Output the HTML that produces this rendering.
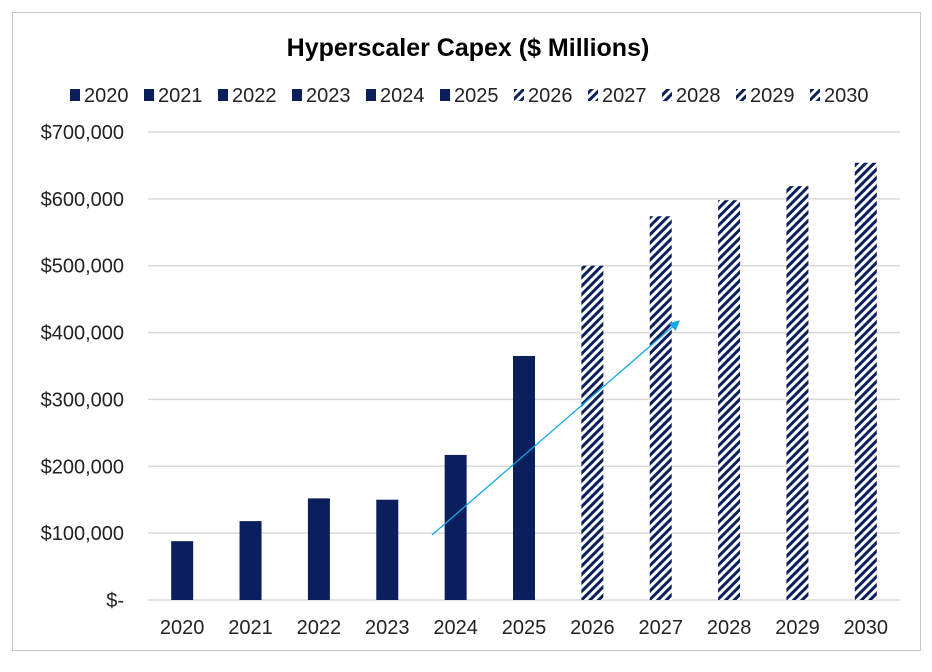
<!DOCTYPE html>
<html><head><meta charset="utf-8"><style>
html,body{margin:0;padding:0;background:#fff;}
svg{display:block;font-family:"Liberation Sans",Arial,sans-serif;}
</style></head><body>
<svg id="chart" width="932" height="672" viewBox="0 0 932 672" xmlns="http://www.w3.org/2000/svg">
<defs>
<pattern id="hatch" patternUnits="userSpaceOnUse" width="6" height="6" patternTransform="rotate(45)">
<rect width="6" height="6" fill="#fff"/>
<rect x="0" y="0" width="3" height="6" fill="#0b1f5c"/>
</pattern>
<marker id="arrowhead" markerWidth="8" markerHeight="8" refX="6" refY="4" orient="auto"><path d="M0,0 L8,4 L0,8 z" fill="#12a8e8"/></marker>
</defs>
<rect x="12.5" y="12.5" width="908" height="638" fill="#fff" stroke="#c8c8c8"/>
<text x="468" y="56" text-anchor="middle" font-size="25" font-weight="bold" fill="#000">Hyperscaler Capex ($ Millions)</text>
<g id="grid"></g><g id="yticks"></g><g id="bars"></g><g id="xticks"></g><g id="legend"></g>
<line x1="432" y1="535" x2="678" y2="322" stroke="#12a8e8" stroke-width="1.3" marker-end="url(#arrowhead)"/>
</svg>
<script>
const categories=["2020","2021","2022","2023","2024","2025","2026","2027","2028","2029","2030"];
const values=[88000,118000,152000,150000,217000,365000,500000,574000,598000,619000,654000];
const forecast=[false,false,false,false,false,false,true,true,true,true,true];
const yTicks=[0,100000,200000,300000,400000,500000,600000,700000];
const yLabels=["$-","$100,000","$200,000","$300,000","$400,000","$500,000","$600,000","$700,000"];
const NS="http://www.w3.org/2000/svg";
const plotL=148,plotR=900,y0=600,yTop=132,yMax=700000;
const yS=v=>y0-(v/yMax)*(y0-yTop);
const step=(plotR-plotL)/categories.length;
const xC=i=>plotL+step*(i+0.5);
function mk(t,a,p){const e=document.createElementNS(NS,t);for(const k in a)e.setAttribute(k,a[k]);p.appendChild(e);return e;}
const grid=document.getElementById('grid'),yt=document.getElementById('yticks');
yTicks.forEach((v,i)=>{
 const l=mk('line',{x1:plotL,x2:plotR,y1:yS(v),y2:yS(v),stroke:'#d9d9d9','stroke-width':1.5},grid);
 
 
 const t=mk('text',{x:124,y:yS(v)+7,'text-anchor':'end','font-size':20,fill:'#222'},yt);
 t.textContent=yLabels[i];
 
 
});
const bars=document.getElementById('bars'),xt=document.getElementById('xticks');
categories.forEach((c,i)=>{
 const r=mk('rect',{x:xC(i)-11,y:yS(values[i]),width:22,height:y0-yS(values[i]),fill:forecast[i]?'url(#hatch)':'#0b1f5c'},bars);
 
 
 const t=mk('text',{x:xC(i),y:634,'text-anchor':'middle','font-size':20,fill:'#222'},xt);
 t.textContent=c;
 
 
});
const lg=document.getElementById('legend');
const lx0=70,lstep=74;
categories.forEach((c,i)=>{
 const x=lx0+i*lstep;
 const s=mk('rect',{x:x,y:89,width:10,height:12,fill:forecast[i]?'url(#hatch)':'#0b1f5c'},lg);
 
 
 const t=mk('text',{x:x+14,y:102,'font-size':20,fill:'#222'},lg);
 t.textContent=c;
 
 
});
</script>
</body></html>
